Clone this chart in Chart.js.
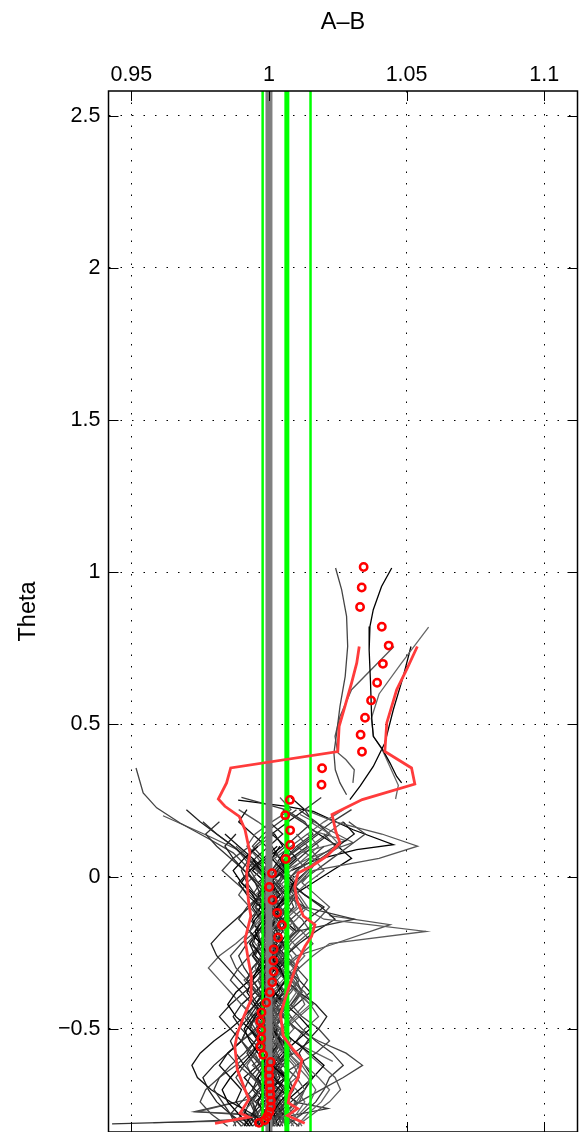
<!DOCTYPE html>
<html><head><meta charset="utf-8">
<script src="https://cdn.jsdelivr.net/npm/chart.js@4.4.0/dist/chart.umd.min.js"></script>
<style>html,body{margin:0;padding:0;background:#fff;overflow:hidden}canvas{display:block}</style>
</head><body>
<canvas id="c" width="582" height="1132"></canvas>
<script>
// ---- axes ----
const xTicks = [0.95, 1, 1.05, 1.1];
const xTickLabels = ['0.95', '1', '1.05', '1.1'];
const yTicks = [-0.5, 0, 0.5, 1, 1.5, 2, 2.5];
const yTickLabels = ['\u22120.5', '0', '0.5', '1', '1.5', '2', '2.5'];
const xRange = [0.9417, 1.1121];
const yRange = [-0.839, 2.581];
const xTitle = 'A\u2013B';
const yTitle = 'Theta';

// ---- reference vertical lines ----
const refGrayX = 1.0;
const refGreenThinX = [0.9977, 1.0151];
const refGreenThickX = 1.0065;

// ---- theta levels shared by the runs ----
const thetaLevels = [-0.82,-0.78,-0.74,-0.70,-0.66,-0.62,-0.58,-0.54,-0.50,-0.46,-0.42,-0.38,-0.34,-0.30,-0.26,-0.22,-0.18,-0.14,-0.10,-0.06,-0.02,0.02,0.06,0.10,0.14,0.18,0.22,0.26];

const run01 = [0.997,1.001,1.004,1.008,1.006,1.001,0.996,0.993,0.991,0.994,0.999,1.003,1.006,1.004,1.000,0.997,0.995,0.998,1.003,1.007,1.009,1.005,1.001,1.004];
const run02 = [1.004,1.007,1.011,1.013,1.010,1.005,1.001,0.998,1.000,1.004,1.009,1.012,1.009,1.004,0.999,0.995,0.993,0.996,1.001,1.006,1.011,1.015,1.018,1.014,1.010];
const run03 = [0.990,0.986,0.983,0.980,0.982,0.986,0.991,0.995,0.998,1.001,0.999,0.995,0.992,0.994,0.998,1.002,1.005,1.003,0.999,0.995,0.992,0.990,0.993];
const run04 = [1.008,1.011,1.015,1.017,1.014,1.010,1.006,1.003,1.001,1.003,1.007,1.010,1.006,1.002,0.999,1.001,1.005,1.010,1.014,1.011,1.007,1.012,1.019,1.026,1.022,1.015];
const run05 = [1.000,0.994,0.986,0.979,0.974,0.972,0.975,0.980,0.986,0.991,0.995,0.998,1.001,0.999,0.995,0.993,0.996,1.000,0.997,0.992,0.989,0.993,0.998];
const run06 = [0.999,1.004,1.011,1.019,1.027,1.034,1.028,1.018,1.010,1.005,1.002,1.000,1.003,1.007,1.004,1.000,0.998,1.002,1.006,1.009,1.006,1.010,1.015,1.020];
const run07 = [0.995,0.998,1.001,0.999,0.995,0.991,0.988,0.986,0.989,0.993,0.996,0.993,0.989,0.985,0.981,0.979,0.983,0.988,0.993,0.997,0.995,0.991,0.987,0.984,0.988];
const run08 = [1.003,1.001,1.004,1.008,1.011,1.009,1.005,1.002,1.005,1.009,1.013,1.011,1.008,1.011,1.016,1.022,1.057,1.020,1.012,1.007,1.010,1.014,1.010];
const run09 = [1.001,1.003,1.000,0.997,0.995,0.998,1.002,1.005,1.002,0.998,1.001,1.005,1.008,1.006,1.003,1.005,1.010,1.031,1.013,1.006,1.002,0.998,1.001,1.006,1.011,1.016,1.013,1.019];
const run10 = [0.993,0.989,0.985,0.983,0.986,0.990,0.994,0.997,0.993,0.988,0.985,0.988,0.993,0.997,1.000,0.997,0.993,0.995,0.999,0.995,0.990,0.987,0.991,0.996];
const run11 = [1.006,1.004,1.000,0.998,1.001,1.005,1.008,1.006,1.003,1.001,1.004,1.008,1.011,1.009,1.005,1.008,1.013,1.018,1.022,1.017,1.012,1.016,1.040,1.054,1.041,1.024,1.013];
const run12 = [0.998,0.995,0.993,0.996,1.000,0.997,0.993,0.990,0.992,0.996,0.999,0.997,0.994,0.991,0.989,0.992,0.996,1.000,1.004,1.001,0.996,0.991,0.986,0.981,0.977,0.982];
const run13 = [1.010,1.014,1.019,1.022,1.018,1.013,1.009,1.006,1.004,1.001,0.999,1.002,1.006,1.010,1.008,1.004,1.001,1.003,1.000,0.997,1.000,1.004];
const run14 = [0.996,0.999,1.002,1.005,1.002,0.999,1.001,1.004,1.002,0.998,0.995,0.998,1.001,1.004,1.007,1.005,1.001,0.998,1.000,1.004,1.009,1.014,1.019,1.025,1.031,1.027];
const run15 = [1.002,0.999,0.995,0.991,0.988,0.991,0.995,0.999,1.002,1.004,1.000,0.996,0.992,0.988,0.986,0.990,0.995,0.998,0.995,0.997,1.000,0.996,0.992,0.995,1.000];
const run16 = [0.999,1.003,1.008,1.013,1.016,1.013,1.011,1.014,1.018,1.021,1.017,1.011,1.006,1.003,1.006,1.011,1.017,1.024,1.019,1.013,1.008,1.003];
const run17 = [0.987,0.990,0.994,0.997,0.999,0.997,0.994,0.996,1.000,1.002,1.004,1.006,1.003,0.999,1.000,0.998,0.995,0.997,1.000,0.998,1.001,0.999,0.996,0.992,0.995,1.001,1.008,1.004];
const run18 = [1.005,1.003,1.006,1.009,1.007,1.003,0.999,0.997,0.994,0.991,0.993,0.997,1.001,1.003,1.000,0.998,1.002,1.004,1.007,1.010,1.007,1.003,1.006,1.010,1.016,1.013,1.006,0.990];
const run19 = [0.994,0.991,0.993,0.997,1.001,1.005,1.008,1.005,1.001,0.998,0.995,0.992,0.994,0.998,1.003,1.005,1.001,0.999,1.003,1.006,1.002,0.997,0.994];
const run20 = [1.001,1.004,1.002,0.998,0.994,0.992,0.995,0.999,1.004,1.008,1.005,1.000,0.997,0.999,1.002,1.004,1.001,0.997,0.993,0.989,0.992,0.997,1.002,1.008,1.014];
const run21 = [0.998,1.001,1.005,1.008,1.005,1.002,1.000,0.997,0.999,1.003,1.008,1.012,1.010,1.006,1.002,1.000,1.002,1.005,1.009,1.007,1.003,1.006,1.011,1.016,1.022,1.017,1.011];
const run22 = [1.012,1.009,1.005,1.001,0.998,1.000,1.003,1.000,0.997,0.999,1.002,1.000,1.002,1.006,1.004,1.000,1.002,1.006,1.011,1.008,1.004,0.999];
const run23 = [0.991,0.994,0.998,1.003,1.006,1.003,0.999,0.996,0.993,0.995,0.999,0.997,0.994,0.996,1.000,1.004,1.007,1.004,0.999,0.996,1.000,1.006,1.004,0.999,0.994,0.989,0.992];
const run24 = [1.004,1.006,1.004,1.001,1.003,1.001,1.003,1.006,1.004,1.001,1.002,0.999,1.001,1.000,1.003,1.007,1.011,1.008,1.004,1.007,1.011,1.017,1.023,1.029,1.035,1.029];
const run25 = [0.997,0.994,0.996,0.999,1.001,1.003,1.006,1.004,1.000,1.002,1.000,1.002,0.999,0.996,0.998,0.996,0.999,0.997,1.000,1.004,1.001,0.997,0.992,0.987,0.981,0.975,0.970];
const run26 = [1.000,0.997,0.999,1.002,1.000,1.003,1.000,1.002,0.999,0.995,0.990,0.986,0.982,0.978,0.982,0.988,0.993,0.997,0.995,0.999,1.003,1.000];
const run27 = [1.003,1.001,1.003,1.000,1.002,1.005,1.003,1.000,1.002,1.005,1.003,1.000,1.002,1.000,1.003,1.001,0.998,1.000,0.998,1.001,0.999,1.002,1.006,1.011,1.017,1.023,1.030];
const run28 = [0.995,0.998,0.996,0.998,0.996,0.999,0.997,0.999,1.003,1.000,0.997,0.999,0.997,1.000,0.997,0.994,0.996,0.994,0.997,0.994,0.990,0.993,0.998,1.003];
const run29 = [1.007,1.004,1.006,1.003,0.999,1.001,0.999,1.002,1.006,1.011,1.016,1.013,1.008,1.004,1.006,1.010,1.015,1.012,1.007,1.003,0.998,1.001,1.005];
const run30 = [0.993,0.996,0.994,0.991,0.993,0.997,1.001,0.999,0.996,0.998,1.002,1.000,0.997,0.999,1.003,1.001,0.998,1.000,1.004,1.002,0.999,1.002,1.006,1.012,1.018,1.012,1.005];
const run31 = [1.002,1.006,1.010,1.013,1.015,1.012,1.007,1.003,1.005,1.010,1.015,1.011,1.006,1.007,1.003,0.998,1.000,1.005,1.010,1.009,1.014,1.020,1.016,1.010];
const run32 = [0.996,0.992,0.988,0.990,0.986,0.982,0.985,0.990,0.992,0.995,0.999,0.996,0.992,0.994,0.998,1.003,1.001,0.997,0.994,0.997,1.002,0.999,0.994,0.989,0.984];
const run33 = [1.001,0.999,1.001,0.999,1.003,1.010,1.017,1.022,1.018,1.012,1.008,1.011,1.014,1.010,1.005,1.001,1.003,1.008,1.013,1.010,1.006,1.010,1.017,1.024,1.020];
const run34 = [0.999,1.001,0.998,0.994,0.996,1.000,0.998,0.994,0.990,0.987,0.990,0.995,0.999,0.997,0.994,0.997,1.001,1.005,1.002,0.999,0.995,0.992,0.995,1.000,1.005,1.000];
const run35 = [1.009,1.006,1.003,1.005,1.008,1.011,1.007,1.003,1.001,1.003,1.000,0.998,1.001,1.006,1.011,1.016,1.012,1.007,1.003,1.006,1.010,1.006,1.002];
const run36 = [0.992,0.995,0.994,0.997,1.001,1.005,1.002,0.999,1.001,0.998,0.994,0.990,0.986,0.989,0.993,0.997,0.996,0.999,0.997,0.994,0.997,1.001,0.998,0.994,0.998,1.004,1.010];
const run37 = [1.003,1.002,1.006,1.011,1.016,1.020,1.015,1.009,1.004,1.000,1.002,1.005,1.002,0.998,1.001,1.005,1.003,1.000,1.004,1.009,1.016,1.023,1.030,1.025,1.018];
const run38 = [0.998,1.001,1.000,0.997,0.999,0.998,1.001,1.005,1.009,1.006,1.002,0.999,0.996,0.998,1.002,1.006,1.010,1.008,1.004,1.000,1.002,0.998,0.993,0.988];
const run39 = [0.988,0.986,0.990,0.994,0.998,0.995,0.992,0.995,0.999,1.003,1.001,0.999,1.002,0.999,0.995,0.997,0.993,0.989,0.992,0.997,1.001,0.997,0.992,0.987,0.981,0.976];
const run40 = [1.006,1.010,1.013,1.010,1.005,1.001,1.004,1.008,1.006,1.002,0.998,1.001,1.005,1.009,1.013,1.009,1.005,1.002,0.998,1.001,1.005,1.011];
const run41 = [1.000,1.004,1.001,1.006,1.002,0.998,1.003,0.999,1.004,1.000,0.996,1.001,0.997,1.002,1.006,1.002,0.998,1.003,0.999,1.004,1.000,1.005,1.010,1.006,1.001,1.007,1.013,1.008];
const run42 = [0.994,0.999,1.004,0.999,0.994,0.989,0.985,0.990,0.996,1.001,0.997,1.002,1.007,1.003,0.998,0.993,0.997,1.002,0.998,0.993,0.988,0.983,0.987,0.993];
const run43 = [1.011,1.005,1.010,1.004,0.999,1.003,1.009,1.015,1.010,1.005,1.010,1.015,1.011,1.006,1.001,1.005,1.010,1.014,1.020,1.013,1.007,1.003,1.008,1.014];
const run44 = [0.997,1.001,0.997,1.002,0.998,1.003,1.008,1.004,0.999,0.995,0.999,0.995,0.991,0.996,1.000,1.005,1.009,1.004,1.000,0.995,1.000,1.004,1.009,1.015,1.021,1.027];
const run45 = [1.002,0.997,1.002,1.007,1.002,0.998,0.994,0.990,0.995,0.999,1.004,1.000,0.996,1.001,1.005,1.001,0.997,0.993,0.997,1.002,1.007,1.002];
const run46 = [1.004,1.000,0.995,1.000,1.006,1.001,1.005,1.010,1.015,1.011,1.006,1.002,0.998,1.003,0.999,1.005,1.010,1.005,1.000,1.004,0.999,0.994,0.999,1.005,1.002];
const run47 = [0.990,0.995,1.000,1.004,0.999,0.994,0.999,1.004,0.999,0.994,0.990,0.995,1.000,1.005,1.010,1.006,1.001,0.997,1.001,1.006,1.002,0.997,0.992,0.996,1.002,0.996,0.989];
const run48 = [1.007,1.003,0.999,1.003,0.998,1.002,1.006,1.001,0.997,1.002,1.007,1.002,1.006,1.011,1.006,1.002,0.998,1.003,1.007,1.003,0.999,1.004,1.009];
const run49 = [0.999,0.995,1.000,1.005,1.010,1.005,1.000,0.996,1.001,1.005,1.001,0.997,1.002,0.998,1.003,0.999,1.004,1.008,1.003,0.998,1.003,1.008,1.013,1.018,1.014,1.020,1.027];
const run50 = [1.001,1.005,1.000,0.995,0.991,0.996,1.001,1.005,1.000,0.996,1.001,1.006,1.002,0.998,0.994,0.999,1.004,1.000,0.995,1.000,0.996,1.001,0.997,0.992];
const run51 = [0.985,0.979,0.975,0.977,0.982,0.988,0.993,0.997,0.995,0.992,0.995,0.999,1.002];
const run52 = [0.992,0.986,0.981,0.978,0.976,0.980,0.985,0.990,0.986,0.982,0.986,0.991,0.996,1.000,0.998];
const run53 = [1.010,1.016,1.022,1.026,1.024,1.019,1.014,1.010,1.013,1.018,1.015,1.010,1.006,1.002];
const run54 = [1.006,1.012,1.017,1.020,1.022,1.027,1.023,1.017,1.012,1.008,1.004,1.007,1.011,1.009,1.005,1.001];
const run55 = [1.000,1.002,0.999,1.001,1.004,1.002,0.999,1.001,1.003,1.000,0.997,0.999,1.002,1.004,1.001,0.998,1.000,1.003,1.001,0.998,1.000,1.003];
const run56 = [0.998,0.996,0.999,1.002,1.000,0.997,0.995,0.998,1.001,1.003,1.001,0.998,0.996,0.999,1.002,1.000,0.997,0.999,1.002,1.005,1.002,0.999,1.001];
const run57 = [1.003,1.005,1.002,0.999,1.001,1.004,1.006,1.003,1.000,0.998,1.001,1.004,1.002,0.999,1.002,1.005,1.003,1.000,0.997,1.000,1.004,1.007,1.004,1.001];
const run58 = [0.996,0.999,1.002,1.000,0.997,0.999,1.002,1.000,0.996,0.994,0.997,1.000,0.998,0.995,0.997,1.000,1.003,1.001,0.998,0.996,0.999,1.002];
const run59 = [1.001,0.998,1.000,1.003,1.006,1.003,1.000,0.998,1.000,1.003,1.005,1.002,1.000,1.002,0.999,0.997,0.999,1.002,1.004,1.001,0.998,1.001,1.004,1.007];
const run60 = [0.999,1.001,1.004,1.002,0.999,0.997,1.000,1.003,1.001,0.998,1.000,1.002,0.999,0.997,1.000,1.002,1.000,0.997,1.000,1.003,1.000,0.996];

// ---- runs with their own theta values ----
const tailLeftX = [0.9430,0.9700,0.9920,1.0010,0.9970,1.0030];
const tailLeftY = [-0.812,-0.806,-0.797,-0.775,-0.745,-0.715];
const tailLeft2X = [0.9580,0.9850,0.9980,1.0040];
const tailLeft2Y = [-0.808,-0.803,-0.798,-0.780];
const wedgeX = [0.9920,0.9730,0.9970];
const wedgeY = [-0.733,-0.772,-0.786];
const wedge2X = [0.9880,0.9740,0.9950];
const wedge2Y = [-0.742,-0.773,-0.781];
const bottomRightX = [1.0090,1.0214,1.0080];
const bottomRightY = [-0.740,-0.762,-0.785];
const arcLeftX = [0.9517,0.9543,0.9592,0.9677,0.9786,0.9870,0.9930,0.9960];
const arcLeftY = [0.357,0.275,0.226,0.176,0.122,0.078,0.023,-0.020];
const diagLeftX = [0.9615,0.9786,0.9884,0.9930,0.9980];
const diagLeftY = [0.200,0.131,0.089,0.039,0.000];
const topHookX = [0.9888,1.0064,1.0161,1.0306,1.0452,1.0319,1.0173,1.0080];
const topHookY = [0.251,0.231,0.214,0.154,0.105,0.089,0.056,0.020];
const spikeMidX = [1.0113,1.0305,1.0149,1.0060];
const spikeMidY = [0.204,0.112,0.062,0.020];
const spikeMid2X = [1.0160,1.0280,1.0120];
const spikeMid2Y = [0.150,0.118,0.080];
const spikeLowX = [1.0220,1.0440,1.0230,1.0100];
const spikeLowY = [-0.128,-0.158,-0.223,-0.260];
const spikeBottomX = [1.0110,1.0232];
const spikeBottomY = [-0.552,-0.607];

const upperRunAX = [1.0242,1.0264,1.0282,1.0286,1.0277,1.0258,1.0246,1.0236,1.0241,1.0258,1.0282];
const upperRunAY = [1.014,0.943,0.855,0.757,0.658,0.559,0.472,0.406,0.351,0.308,0.269];
const upperRunBX = [1.0446,1.0409,1.0379,1.0367,1.0364,1.0369,1.0373,1.0379,1.0413,1.0440,1.0464,1.0482];
const upperRunBY = [1.014,0.953,0.877,0.822,0.745,0.636,0.526,0.461,0.417,0.373,0.329,0.308];
const upperRunCX = [1.0580,1.0480,1.0400,1.0372,1.0380,1.0410,1.0440,1.0470,1.0460];
const upperRunCY = [0.820,0.700,0.600,0.520,0.460,0.420,0.360,0.300,0.255];
const upperRunDX = [1.0454,1.0300,1.0258,1.0240,1.0250,1.0280,1.0310,1.0305];
const upperRunDY = [0.756,0.614,0.526,0.461,0.407,0.384,0.351,0.308];
const upperRunEX = [1.0516,1.0488,1.0452,1.0421,1.0379,1.0331,1.0294];
const upperRunEY = [0.756,0.658,0.549,0.439,0.362,0.297,0.253];

// ---- red mean markers ----
const meanX = [1.0344,1.0337,1.0331,1.0410,1.0435,1.0414,1.0393,1.0371,1.0349,1.0333,1.0338,1.0193,1.0191,1.0076,1.0059,1.0077,1.0077,1.0061,1.0011,1.0001,1.0013,1.0030,1.0047,1.0033,1.0017,1.0016,1.0017,1.0012,1.0003,0.9990,0.9973,0.9968,0.9972,0.9972,0.9969,0.9979,1.0006,1.0001,1.0001,1.0002,1.0004,1.0005,1.0007,1.0007,1.0002,0.9994,0.9985,0.9964];
const meanY = [1.017,0.950,0.886,0.821,0.759,0.699,0.637,0.579,0.522,0.466,0.410,0.356,0.302,0.252,0.202,0.152,0.104,0.058,0.011,-0.034,-0.077,-0.119,-0.159,-0.200,-0.239,-0.276,-0.312,-0.347,-0.380,-0.414,-0.446,-0.475,-0.504,-0.532,-0.559,-0.585,-0.609,-0.632,-0.654,-0.676,-0.696,-0.716,-0.736,-0.756,-0.773,-0.788,-0.800,-0.809];

// ---- red bounds ----
const lowerBoundX = [1.0328,1.0319,1.0300,1.0276,1.0255,1.0250,0.9861,0.9846,0.9816,0.9840,0.9892,0.9913,0.9931,0.9919,0.9925,0.9934,0.9913,0.9925,0.9936,0.9935,0.9909,0.9886,0.9876,0.9885,0.9913,0.9927,0.9895,0.9927,0.9804];
const lowerBoundY = [0.756,0.702,0.636,0.559,0.494,0.411,0.357,0.308,0.255,0.231,0.198,0.154,0.078,0.012,-0.076,-0.130,-0.207,-0.273,-0.327,-0.404,-0.459,-0.513,-0.558,-0.634,-0.700,-0.732,-0.777,-0.790,-0.811];
const upperBoundX = [1.0539,1.0500,1.0464,1.0428,1.0421,1.0518,1.0530,1.0339,1.0229,1.0243,1.0258,1.0210,1.0155,1.0106,1.0094,1.0101,1.0125,1.0167,1.0155,1.0131,1.0106,1.0082,1.0058,1.0042,1.0052,1.0088,1.0120,1.0106,1.0076,1.0070,1.0104,1.0067,1.0130];
const upperBoundY = [0.756,0.680,0.614,0.505,0.411,0.357,0.304,0.253,0.204,0.148,0.111,0.067,0.034,0.012,-0.032,-0.076,-0.130,-0.158,-0.196,-0.229,-0.273,-0.338,-0.404,-0.453,-0.524,-0.568,-0.601,-0.660,-0.713,-0.743,-0.762,-0.785,-0.810];

// ---- build datasets ----
const runColors = ['#000000','#555555','#333333','#666666','#111111','#444444','#222222','#5a5a5a','#3a3a3a'];
const levelRuns = [run01,run02,run03,run04,run05,run06,run07,run08,run09,run10,run11,run12,run13,run14,run15,run16,run17,run18,run19,run20,run21,run22,run23,run24,run25,run26,run27,run28,run29,run30,run31,run32,run33,run34,run35,run36,run37,run38,run39,run40,run41,run42,run43,run44,run45,run46,run47,run48,run49,run50,run51,run52,run53,run54,run55,run56,run57,run58,run59,run60];
const freeRuns = [[tailLeftX,tailLeftY],[tailLeft2X,tailLeft2Y],[wedgeX,wedgeY],[wedge2X,wedge2Y],[bottomRightX,bottomRightY],[arcLeftX,arcLeftY],[diagLeftX,diagLeftY],[topHookX,topHookY],[spikeMidX,spikeMidY],[spikeMid2X,spikeMid2Y],[spikeLowX,spikeLowY],[spikeBottomX,spikeBottomY],[upperRunAX,upperRunAY],[upperRunBX,upperRunBY],[upperRunCX,upperRunCY],[upperRunDX,upperRunDY],[upperRunEX,upperRunEY]];
const freeColors = ['#333333','#666666','#444444','#555555','#333333','#444444','#555555','#000000','#555555','#666666','#555555','#666666','#444444','#000000','#666666','#555555','#000000'];

const pair = (xs, ys) => xs.map((x, i) => ({x: x, y: ys[i]}));
const datasets = [];
levelRuns.forEach((r, k) => {
  datasets.push({data: r.map((x, i) => ({x: x, y: thetaLevels[i]})), showLine: true, borderColor: runColors[k % runColors.length], borderWidth: 1.3, pointRadius: 0, fill: false, order: 10});
});
freeRuns.forEach((r, k) => {
  datasets.push({data: pair(r[0], r[1]), showLine: true, borderColor: freeColors[k], borderWidth: 1.3, pointRadius: 0, fill: false, order: 10});
});
const vline = (x) => [{x: x, y: yRange[0]}, {x: x, y: yRange[1]}];
datasets.push({data: vline(refGrayX), showLine: true, borderColor: '#808080', borderWidth: 7, pointRadius: 0, order: 6});
datasets.push({data: vline(refGreenThickX), showLine: true, borderColor: '#00ff00', borderWidth: 5, pointRadius: 0, order: 5});
refGreenThinX.forEach(v => datasets.push({data: vline(v), showLine: true, borderColor: '#00ff00', borderWidth: 2.5, pointRadius: 0, order: 5}));
datasets.push({data: pair(lowerBoundX, lowerBoundY), showLine: true, borderColor: '#ff3b3b', borderWidth: 2.8, pointRadius: 0, order: 2});
datasets.push({data: pair(upperBoundX, upperBoundY), showLine: true, borderColor: '#ff3b3b', borderWidth: 2.8, pointRadius: 0, order: 2});
datasets.push({data: pair(meanX, meanY), showLine: false, pointRadius: 3.7, pointBorderWidth: 2.5, pointBorderColor: '#ff0000', pointBackgroundColor: 'rgba(255,255,255,0)', order: 1});

const boxPlugin = {
  id: 'box',
  afterDraw(chart) {
    const {ctx, chartArea: a, scales: {x, y}} = chart;
    ctx.save();
    ctx.strokeStyle = '#000';
    ctx.lineWidth = 1.5;
    ctx.strokeRect(a.left, a.top, a.right - a.left, a.bottom - a.top);
    ctx.lineWidth = 1;
    ctx.beginPath();
    x.ticks.forEach(t => {
      const p = Math.round(x.getPixelForValue(t.value)) + 0.5;
      ctx.moveTo(p, a.top); ctx.lineTo(p, a.top + 10);
      ctx.moveTo(p, a.bottom); ctx.lineTo(p, a.bottom - 10);
    });
    y.ticks.forEach(t => {
      const p = Math.round(y.getPixelForValue(t.value)) + 0.5;
      ctx.moveTo(a.left, p); ctx.lineTo(a.left + 10, p);
      ctx.moveTo(a.right, p); ctx.lineTo(a.right - 10, p);
    });
    ctx.stroke();
    ctx.restore();
  }
};

const tickFont = {family: 'Liberation Sans', size: 21.5};
const labelFont = {family: 'Liberation Sans', size: 23.5};

new Chart(document.getElementById('c'), {
  type: 'scatter',
  data: {datasets: datasets},
  options: {
    responsive: false, animation: false, devicePixelRatio: 1, events: [],
    layout: {autoPadding: false, padding: {left: 0, right: 4.5, top: 0, bottom: 0}},
    plugins: {legend: {display: false}, tooltip: {enabled: false}, title: {display: false}},
    scales: {
      x: {
        type: 'linear', position: 'top', min: xRange[0], max: xRange[1],
        afterBuildTicks: s => { s.ticks = xTicks.map(v => ({value: v})); },
        afterFit: s => { s.height = 91; s.paddingLeft = 0; s.paddingRight = 0; },
        ticks: {callback: (v, i) => xTickLabels[i], color: '#000', font: tickFont, padding: 3, maxRotation: 0, autoSkip: false},
        grid: {color: '#000', lineWidth: 1, drawTicks: false},
        border: {display: false, dash: [1.5, 10]},
        title: {display: true, text: xTitle, color: '#000', font: labelFont, padding: {top: 8, bottom: 0}}
      },
      y: {
        type: 'linear', position: 'left', min: yRange[0], max: yRange[1],
        afterBuildTicks: s => { s.ticks = yTicks.map(v => ({value: v})); },
        afterFit: s => { s.width = 108.5; s.paddingTop = 0; s.paddingBottom = 0; },
        ticks: {callback: (v, i) => yTickLabels[i], color: '#000', font: tickFont, padding: 8, autoSkip: false},
        grid: {color: '#000', lineWidth: 1, drawTicks: false},
        border: {display: false, dash: [1.5, 10]},
        title: {display: true, text: yTitle, color: '#000', font: labelFont, padding: {top: 14, bottom: 0}}
      }
    }
  },
  plugins: [boxPlugin]
});
</script>
</body></html>
